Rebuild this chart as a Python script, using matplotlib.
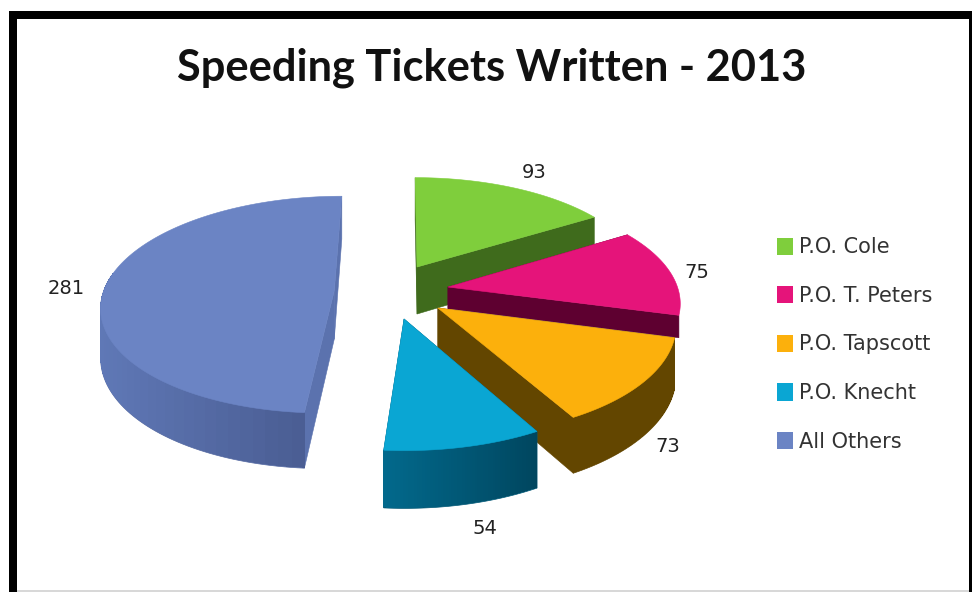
import numpy as np
import matplotlib
matplotlib.use("Agg")
import matplotlib.pyplot as plt
from matplotlib.patches import Polygon, Rectangle, Patch
from matplotlib.colors import to_rgb

# --- data ---
title = "Speeding Tickets Written - 2013"
names = ["P.O. Cole", "P.O. T. Peters", "P.O. Tapscott", "P.O. Knecht", "All Others"]
values = [93, 75, 73, 54, 281]

# --- style ---
top_colors = ["#7FCE3C", "#E5147A", "#FCB00C", "#0AA6D3", "#6B84C4"]
wall_left = ["#3F6B1C", "#5E0030", "#634600", "#02698C", "#5F78B6"]
wall_right = ["#3F6B1C", "#5E0030", "#634600", "#00465F", "#46588C"]
cut_colors = ["#3F6B1C", "#5E0030", "#634600", "#004A64", "#5B72AE"]
explode_xy = [(0.076, 0.278), (0.209, 0.084), (0.161, -0.1095), (0.017, -0.207), (-0.285, 0.05)]
depth = [1.0, 0.45, 1.0, 1.0, 1.0]
draw_order = [0, 1, 4, 2, 3]
label_xy = [(534, 172), (697, 273), (668, 446), (485, 529), (66, 289)]

# projection of the pie plane to the picture
SX0, SY0, A, B, K, H = 400.0, 296.0, 232.0, 108.0, 0.13, 47.0


def project(X, Y, drop=0.0):
    w = 1 + K * np.asarray(Y)
    return SX0 + A * np.asarray(X) / w, SY0 - B * np.asarray(Y) / w + drop * H * 1.036 / w


fig = plt.figure(figsize=(9.72, 5.92), dpi=100, facecolor="white")
ax = fig.add_axes([0, 0, 1, 1])
ax.set_xlim(0, 972)
ax.set_ylim(592, 0)
ax.axis("off")

# frame
for r in [(9, 11, 8, 581), (9, 11, 963, 8), (969, 11, 3, 581)]:
    ax.add_patch(Rectangle((r[0], r[1]), r[2], r[3], fc="black", ec="none", zorder=1))
ax.add_patch(Rectangle((17, 590), 952, 2, fc="#d8d8d8", ec="none", zorder=1))

# slices
edges = np.concatenate([[0], np.cumsum(values)]) / np.sum(values) * 2 * np.pi
z = 2.0
for i in draw_order:
    t = np.linspace(edges[i], edges[i + 1], 121)
    ex, ey = explode_xy[i]
    d = depth[i]
    X = ex + np.sin(t)
    Y = ey + np.cos(t)
    # radial cut walls
    for ang in (edges[i], edges[i + 1]):
        xa, ya = ex + np.sin(ang), ey + np.cos(ang)
        p = [project(ex, ey), project(xa, ya), project(xa, ya, d), project(ex, ey, d)]
        ax.add_patch(Polygon(p, closed=True, fc=cut_colors[i], ec=cut_colors[i], lw=0.4, zorder=z))
        z += 0.01
    # outer wall: a smooth base outline, then overlapping shaded pieces
    sx, sy = project(X, Y)
    sx2, sy2 = project(X, Y, d)
    cl, cr = np.array(to_rgb(wall_left[i])), np.array(to_rgb(wall_right[i]))
    xmin, xmax = sx2.min(), sx2.max()
    if i not in (0, 1):
        keep = np.cos(t) <= 0.15
        base = np.column_stack([np.r_[sx[keep], sx2[keep][::-1]], np.r_[sy[keep], sy2[keep][::-1]]])
        mid = (cl + cr) / 2
        ax.add_patch(Polygon(base, closed=True, fc=mid, ec=mid, lw=0.5, zorder=z))
        z += 0.01
        idx = np.where(keep)[0]
        for j in idx[:-2:2]:
            f = (sx[j + 1] - xmin) / max(xmax - xmin, 1)
            c = cl + (cr - cl) * f
            e = min(j + 3, len(t) - 1)
            p = [(sx[j], sy[j]), (sx[e], sy[e]), (sx2[e], sy2[e] - 1), (sx2[j], sy2[j] - 1)]
            ax.add_patch(Polygon(p, closed=True, fc=c, ec="none", lw=0, antialiased=False, zorder=z))
            z += 0.0001
        z += 0.01
    # top face
    ax_, ay_ = project(ex, ey)
    pts = np.column_stack([np.r_[ax_, sx], np.r_[ay_, sy]])
    ax.add_patch(Polygon(pts, closed=True, fc=top_colors[i], ec=top_colors[i], lw=0.4, zorder=z))
    z += 0.01

# data labels
for v, (x, y) in zip(values, label_xy):
    ax.text(x, y, str(v), ha="center", va="center", fontsize=14, color="#222222",
            family="DejaVu Sans", zorder=50)

# title
ax.text(492, 68, title, ha="center", va="center", fontsize=31.2, fontweight="bold",
        color="#111111", family=["Lato", "DejaVu Sans"], zorder=50)

# legend
handles = [Patch(fc=c, ec="none", label=n) for c, n in zip(top_colors, names)]
leg = ax.legend(handles=handles, loc="center left", bbox_to_anchor=(777 / 972, 1 - 344.5 / 592),
                frameon=False, prop={"family": "DejaVu Sans", "size": 15},
                handlelength=0.77, handleheight=0.9, handletextpad=0.27,
                labelspacing=1.37, borderpad=0, borderaxespad=0, labelcolor="#333333")
leg.set_zorder(50)

fig.savefig("out.png", dpi=100, facecolor="white")
